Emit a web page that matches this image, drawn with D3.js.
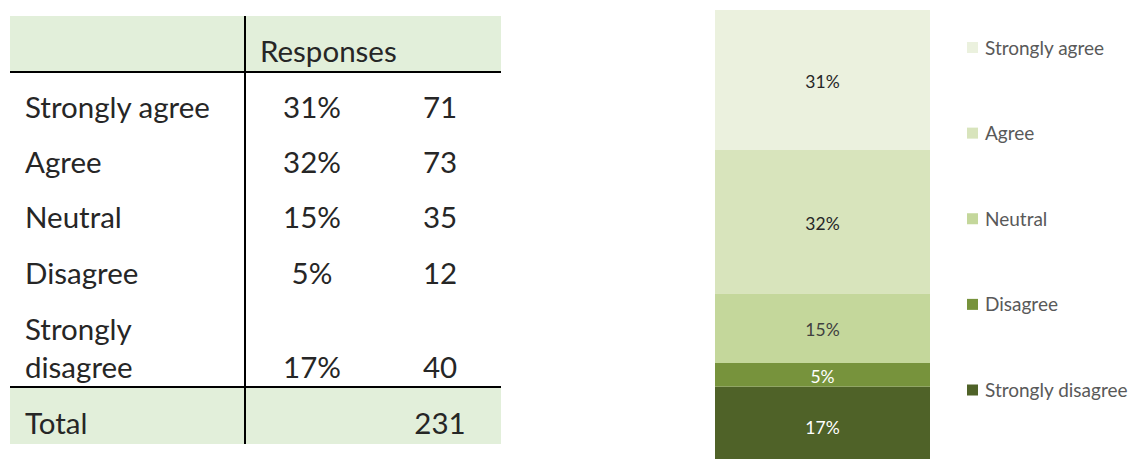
<!DOCTYPE html>
<html><head><meta charset="utf-8">
<script src="https://cdn.jsdelivr.net/npm/d3@7"></script>
<style>html,body{margin:0;padding:0;background:#fff;overflow:hidden}</style>
</head><body>
<svg id="c" width="1134" height="459"></svg>
<script>
const categories = ["Strongly agree","Agree","Neutral","Disagree","Strongly disagree"];
const counts = [71, 73, 35, 12, 40];
const percentLabels = ["31%","32%","15%","5%","17%"];
const totalLabel = "Total";
const totalCount = 231;
const headerLabel = "Responses";
const colors = ["#EBF1DE","#D8E4BC","#C4D79B","#77933C","#4F6228"];
const labelColors = ["#262626","#262626","#404040","#ffffff","#ffffff"];

const svg = d3.select("#c");
const font = "Lato, 'Open Sans', sans-serif";

// ---------- Table ----------
const T = {x0:10, x1:501, sep:245, top:16, hLine:72, bLine:387, bottom:444};
const tbl = svg.append("g");
tbl.append("rect").attr("x",T.x0).attr("y",T.top).attr("width",T.x1-T.x0).attr("height",T.hLine-T.top).attr("fill","#E2EFDA");
tbl.append("rect").attr("x",T.x0).attr("y",T.bLine).attr("width",T.x1-T.x0).attr("height",T.bottom-T.bLine).attr("fill","#E2EFDA");
tbl.append("line").attr("x1",T.x0).attr("x2",T.x1).attr("y1",T.hLine).attr("y2",T.hLine).attr("stroke","#000").attr("stroke-width",2.2);
tbl.append("line").attr("x1",T.x0).attr("x2",T.x1).attr("y1",T.bLine).attr("y2",T.bLine).attr("stroke","#000").attr("stroke-width",2.2);
tbl.append("line").attr("x1",T.sep).attr("x2",T.sep).attr("y1",T.top).attr("y2",T.bottom).attr("stroke","#000").attr("stroke-width",2);

const fs = 29.5;
const txt = (x,y,s,anchor) => tbl.append("text").attr("x",x).attr("y",y).attr("text-anchor",anchor||"start")
  .attr("font-family",font).attr("font-size",fs).attr("fill","#262626").text(s);
txt(260,62,headerLabel);
const rowY = [118,173,228,284,378];
categories.forEach((c,i)=>{
  if (c === "Strongly disagree") {
    txt(25,340,"Strongly");
    txt(25,378,"disagree");
  } else txt(25,rowY[i],c);
  txt(312,rowY[i],percentLabels[i],"middle");
  txt(440,rowY[i],String(counts[i]),"middle");
});
txt(25,434,totalLabel);
txt(440,434,String(totalCount),"middle");

// ---------- Stacked bar ----------
const bar = {x:715, w:215, top:10};
const y = d3.scaleLinear().domain([0,totalCount]).range([bar.top + 1.972*totalCount, bar.top]);
const order = d3.range(categories.length).reverse();
let acc = 0;
const segs = order.map(i => { const s = {i, y0:acc, y1:acc+counts[i]}; acc += counts[i]; return s; });
const g = svg.append("g");
g.selectAll("rect").data(segs).join("rect")
  .attr("x",bar.x).attr("width",bar.w)
  .attr("y",d=>y(d.y1)).attr("height",d=>y(d.y0)-y(d.y1))
  .attr("fill",d=>colors[d.i]);
g.selectAll("text").data(segs).join("text")
  .attr("x",bar.x+bar.w/2).attr("y",d=>(y(d.y0)+y(d.y1))/2)
  .attr("dy","0.45em").attr("text-anchor","middle")
  .attr("font-family",font).attr("font-size",17.5).attr("fill",d=>labelColors[d.i])
  .text(d=>percentLabels[d.i]);

// ---------- Legend ----------
const leg = svg.append("g");
const legY = d3.scalePoint().domain(categories).range([47.5,390]);
categories.forEach((c,i)=>{
  leg.append("rect").attr("x",967).attr("y",legY(c)-5.5).attr("width",11).attr("height",11).attr("fill",colors[i]);
  leg.append("text").attr("x",985).attr("y",legY(c)).attr("dy","0.37em")
    .attr("font-family",font).attr("font-size",19).attr("fill","#595959").text(c);
});
</script>
</body></html>
